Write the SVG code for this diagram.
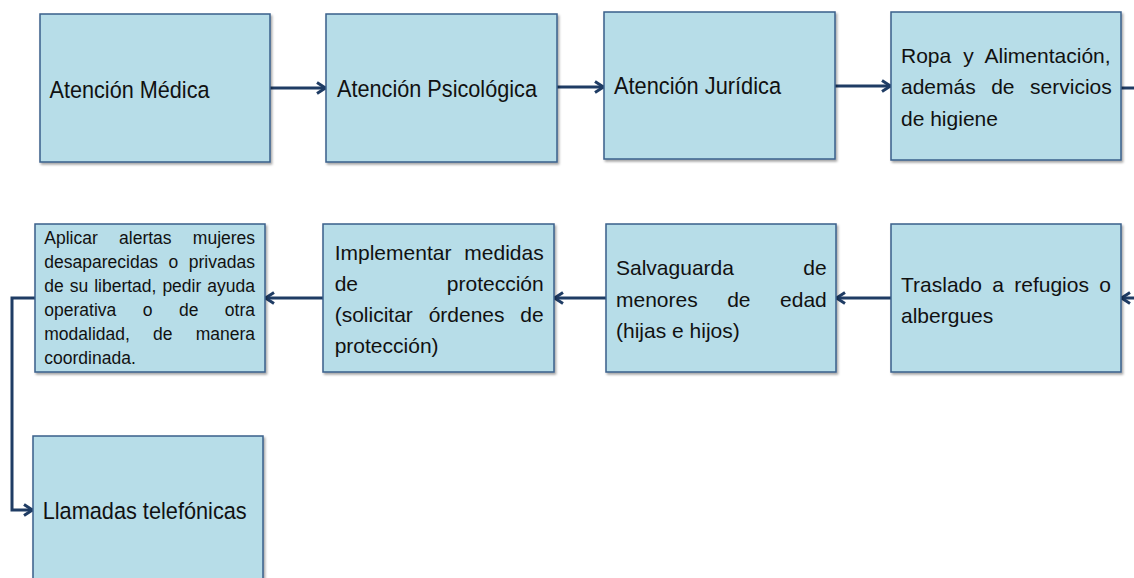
<svg xmlns="http://www.w3.org/2000/svg" width="1134" height="578" viewBox="0 0 1134 578">
<defs>
<filter id="sh" x="-5%" y="-5%" width="115%" height="115%">
<feDropShadow dx="1.5" dy="2" stdDeviation="1.2" flood-color="#000" flood-opacity="0.35"/>
</filter>
<marker id="ah" viewBox="0 0 12 14" refX="11" refY="7" markerWidth="12" markerHeight="14" markerUnits="userSpaceOnUse" orient="auto">
<path d="M2,1.5 L10.5,7 L2,12.5" fill="none" stroke="#1f3c64" stroke-width="3" stroke-linejoin="miter"/>
</marker>
</defs>
<style>
.box{fill:#b7dde8;stroke:#3a5f8b;stroke-width:1.5;filter:url(#sh)}
.b{font-family:"Liberation Sans",Arial,sans-serif;font-size:24.5px;fill:#111}
.t{font-family:"Liberation Sans",Arial,sans-serif;font-size:21px;fill:#111}
.s{font-family:"Liberation Sans",Arial,sans-serif;font-size:17.5px;fill:#111}
.c{fill:none;stroke:#1f3c64;stroke-width:3}
.a{marker-end:url(#ah)}
</style>
<rect width="1134" height="578" fill="#fff"/>
<g id="connectors">
<line class="c a" x1="270" y1="88" x2="326" y2="88"/>
<line class="c a" x1="557" y1="87" x2="604" y2="87"/>
<line class="c a" x1="835" y1="86" x2="891" y2="86"/>
<line class="c" x1="1121" y1="88" x2="1134" y2="88"/>
<line class="c a" x1="1136" y1="298" x2="1121" y2="298"/>
<line class="c a" x1="891" y1="298" x2="836" y2="298"/>
<line class="c a" x1="606" y1="298" x2="554" y2="298"/>
<line class="c a" x1="323" y1="298" x2="265" y2="298"/>
<polyline class="c a" points="35,298 12,298 12,510 33,510"/>
</g>
<g id="n1">
<rect class="box" x="40" y="14" width="230" height="148"/>
<text class="b" x="49.5" y="97.5" textLength="160" lengthAdjust="spacingAndGlyphs">Atención Médica</text>
</g>
<g id="n2">
<rect class="box" x="326" y="14" width="231" height="148"/>
<text class="b" x="337" y="97" textLength="200" lengthAdjust="spacingAndGlyphs">Atención Psicológica</text>
</g>
<g id="n3">
<rect class="box" x="604" y="12" width="231" height="147"/>
<text class="b" x="614" y="94" textLength="167" lengthAdjust="spacingAndGlyphs">Atención Jurídica</text>
</g>
<g id="n4">
<rect class="box" x="891" y="12" width="230" height="148"/>
<text class="t" x="901" y="62.7" word-spacing="6.15">Ropa y Alimentación,</text>
<text class="t" x="901" y="94.3" word-spacing="9.65">además de servicios</text>
<text class="t" x="901" y="126">de higiene</text>
</g>
<g id="n5">
<rect class="box" x="891" y="224" width="230" height="148"/>
<text class="t" x="901" y="291.7" word-spacing="4.47">Traslado a refugios o</text>
<text class="t" x="901" y="323">albergues</text>
</g>
<g id="n6">
<rect class="box" x="606" y="224" width="230" height="148"/>
<text class="t" x="616" y="275" word-spacing="63.6">Salvaguarda de</text>
<text class="t" x="616" y="306.7" word-spacing="23.65">menores de edad</text>
<text class="t" x="616" y="338.3">(hijas e hijos)</text>
</g>
<g id="n7">
<rect class="box" x="323" y="224" width="231" height="148"/>
<text class="t" x="334.7" y="260" word-spacing="7.1">Implementar medidas</text>
<text class="t" x="334.7" y="291" word-spacing="82.9">de protección</text>
<text class="t" x="334.7" y="322" word-spacing="9.95">(solicitar órdenes de</text>
<text class="t" x="334.7" y="353.3">protección)</text>
</g>
<g id="n8">
<rect class="box" x="35" y="224" width="230" height="148"/>
<text class="s" x="44.3" y="244" word-spacing="16.4">Aplicar alertas mujeres</text>
<text class="s" x="44.3" y="268.3" word-spacing="5.6">desaparecidas o privadas</text>
<text class="s" x="44.3" y="291.7" word-spacing="1.1">de su libertad, pedir ayuda</text>
<text class="s" x="44.3" y="315.7" word-spacing="21.6">operativa o de otra</text>
<text class="s" x="44.3" y="340" word-spacing="18.3">modalidad, de manera</text>
<text class="s" x="44.3" y="364.3">coordinada.</text>
</g>
<g id="n9">
<rect class="box" x="33" y="436" width="230" height="150"/>
<text class="b" x="42.7" y="519" textLength="204" lengthAdjust="spacingAndGlyphs">Llamadas telefónicas</text>
</g>
</svg>
